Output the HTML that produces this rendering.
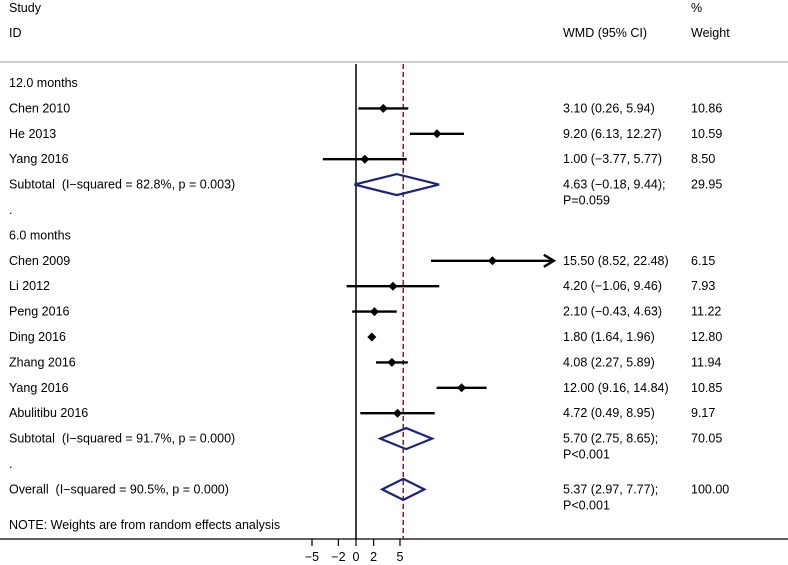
<!DOCTYPE html>
<html><head><meta charset="utf-8"><style>
body{margin:0;background:#fff}
svg{display:block;font-family:"Liberation Sans",Arial,sans-serif;font-size:12.5px}
svg text{white-space:pre}
</style></head><body>
<svg width="788" height="565" viewBox="0 0 788 565">
<g id="static">
<text x="9" y="12">Study</text>
<text x="9" y="37">ID</text>
<text x="563" y="37">WMD (95% CI)</text>
<text x="691" y="12">%</text>
<text x="691" y="37">Weight</text>
<line x1="0" y1="62" x2="788" y2="62" stroke="#bbb" stroke-width="1.5"/>
<line x1="0" y1="539" x2="788" y2="539" stroke="#000" stroke-width="1.2"/>
<text x="9" y="529">NOTE: Weights are from random effects analysis</text>
</g>
<g id="plot"></g>
</svg>
<script>
const labels=["12.0 months","Chen 2010","He 2013","Yang 2016","Subtotal  (I\u2212squared = 82.8%, p = 0.003)",".","6.0 months","Chen 2009","Li 2012","Peng 2016","Ding 2016","Zhang 2016","Yang 2016","Abulitibu 2016","Subtotal  (I\u2212squared = 91.7%, p = 0.000)",".","Overall  (I\u2212squared = 90.5%, p = 0.000)"];
const kinds=["h","s","s","s","d","b","h","s","s","s","s","s","s","s","d","b","d"];
const est=[null,3.10,9.20,1.00,4.63,null,null,15.50,4.20,2.10,1.80,4.08,12.00,4.72,5.70,null,5.37];
const lo=[null,0.26,6.13,-3.77,-0.18,null,null,8.52,-1.06,-0.43,1.64,2.27,9.16,0.49,2.75,null,2.97];
const hi=[null,5.94,12.27,5.77,9.44,null,null,22.48,9.46,4.63,1.96,5.89,14.84,8.95,8.65,null,7.77];
const ciText=[null,"3.10 (0.26, 5.94)","9.20 (6.13, 12.27)","1.00 (\u22123.77, 5.77)","4.63 (\u22120.18, 9.44);",null,null,"15.50 (8.52, 22.48)","4.20 (\u22121.06, 9.46)","2.10 (\u22120.43, 4.63)","1.80 (1.64, 1.96)","4.08 (2.27, 5.89)","12.00 (9.16, 14.84)","4.72 (0.49, 8.95)","5.70 (2.75, 8.65);",null,"5.37 (2.97, 7.77);"];
const pText=[null,null,null,null,"P=0.059",null,null,null,null,null,null,null,null,null,"P<0.001",null,"P<0.001"];
const weights=[null,"10.86","10.59","8.50","29.95",null,null,"6.15","7.93","11.22","12.80","11.94","10.85","9.17","70.05",null,"100.00"];
const ticks=[-5,-2,0,2,5];
const overall=5.37;
const clipMax=21.5;
const NS="http://www.w3.org/2000/svg";
const g=document.getElementById('plot');
const X=v=>356+v*8.8;
const Y=i=>83+i*25.4;
function mk(t,a){const e=document.createElementNS(NS,t);for(const k in a)e.setAttribute(k,a[k]);g.appendChild(e);return e;}
let z=mk('line',{x1:X(0),y1:64,x2:X(0),y2:539,stroke:'#000','stroke-width':1.5});


let o=mk('line',{x1:X(overall),y1:64,x2:X(overall),y2:539,stroke:'#8b1a2b','stroke-width':1.5,'stroke-dasharray':'5,3'});


ticks.forEach(t=>{
 let l=mk('line',{x1:X(t),y1:539,x2:X(t),y2:546,stroke:'#000','stroke-width':1.2});
 
 
 let tx=mk('text',{x:X(t),y:561,'text-anchor':'middle'});
 tx.textContent=t<0?'\u2212'+(-t):String(t);
 
 
});
labels.forEach((lab,i)=>{
 const y=Y(i);
 let t=mk('text',{x:9,y:y+4});t.textContent=lab;
 
 
 if(ciText[i]){let c=mk('text',{x:563,y:y+4});c.textContent=ciText[i];
  
  }
 if(pText[i]){let c=mk('text',{x:563,y:y+20});c.textContent=pText[i];
  
  }
 if(weights[i]){let c=mk('text',{x:691,y:y+4});c.textContent=weights[i];
  
  }
 if(kinds[i]==='s'){
  let l=mk('line',{x1:X(lo[i]),y1:y,x2:X(hi[i]),y2:y,stroke:'#000','stroke-width':2.4});
  
  
  if(hi[i]>clipMax){
   let a=mk('polyline',{points:`${X(hi[i])-10},${y-6} ${X(hi[i])},${y} ${X(hi[i])-10},${y+6}`,fill:'none',stroke:'#000','stroke-width':2.4});
   
   
  }
  const cx=X(est[i]);
  let d=mk('polygon',{points:`${cx-4.5},${y} ${cx},${y-4.5} ${cx+4.5},${y} ${cx},${y+4.5}`,fill:'#000'});
  
  
 } else if(kinds[i]==='d'){
  let d=mk('polygon',{points:`${X(lo[i])},${y} ${X(est[i])},${y-10.5} ${X(hi[i])},${y} ${X(est[i])},${y+10.5}`,fill:'none',stroke:'#1a237e','stroke-width':2.2});
  
  
 }
});
</script>
</body></html>
